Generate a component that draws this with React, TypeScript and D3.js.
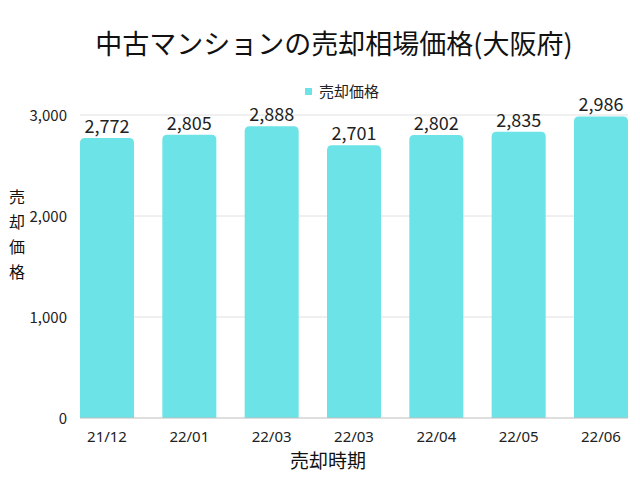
import React from "react";
import * as d3 from "d3";

const categories = ["21/12", "22/01", "22/03", "22/03", "22/04", "22/05", "22/06"];
const values = [2772, 2805, 2888, 2701, 2802, 2835, 2986];
const yTicks = [0, 1000, 2000, 3000];
const title = "中古マンションの売却相場価格(大阪府)";
const seriesName = "売却価格";
const xTitle = "売却時期";
const yTitleChars = ["売", "却", "価", "格"];

const W = 640, H = 480;
const left = 80, right = 628, top = 115, bottom = 418;
const color = "#6ce3e6";
const font = "'Noto Sans CJK JP', 'Noto Sans', sans-serif";

function topRounded(x: number, y: number, w: number, h: number, r: number) {
  const rr = Math.min(r, h);
  return `M${x},${y + h}V${y + rr}Q${x},${y} ${x + rr},${y}H${x + w - rr}Q${x + w},${y} ${x + w},${y + rr}V${y + h}Z`;
}

export default function App() {
  const x = d3.scaleBand<number>().domain(d3.range(categories.length)).range([left, right]).paddingInner(0.344).paddingOuter(0);
  const y = d3.scaleLinear().domain([0, 3000]).range([bottom, top]);
  const fmt = d3.format(",");
  return (
    <svg width={W} height={H} style={{ position: "absolute", left: 0, top: 0, background: "#fff" }} fontFamily={font}>
      <text x={334} y={54} textAnchor="middle" fontSize={27} fill="#111">{title}</text>
      <rect x={305} y={88} width={7} height={7} fill={color} />
      <text x={319} y={97} fontSize={15} fill="#222">{seriesName}</text>
      {yTicks.map((t) => (
        <g key={t}>
          {t > 0 && <line x1={left} x2={right} y1={y(t)} y2={y(t)} stroke="#e0e0e0" strokeWidth={1} />}
          <text x={67} y={y(t) + 6} textAnchor="end" fontSize={15} fill="#222">{fmt(t)}</text>
        </g>
      ))}
      {values.map((v, i) => (
        <g key={i}>
          <path d={topRounded(x(i)!, y(v), x.bandwidth(), bottom - y(v), 5)} fill={color} />
          <text x={x(i)! + x.bandwidth() / 2} y={y(v) - 5} textAnchor="middle" fontSize={18} fill="#222">{fmt(v)}</text>
          <text x={x(i)! + x.bandwidth() / 2} y={442} textAnchor="middle" fontSize={15} fill="#222" fontFamily="'Noto Sans', sans-serif">{categories[i]}</text>
        </g>
      ))}
      <line x1={left} x2={right} y1={bottom} y2={bottom} stroke="#bdbdbd" strokeWidth={1.2} />
      <text x={328} y={468} textAnchor="middle" fontSize={19} fill="#111">{xTitle}</text>
      {yTitleChars.map((c, i) => (
        <text key={i} x={17} y={203 + i * 25} textAnchor="middle" fontSize={16} fill="#111">{c}</text>
      ))}
    </svg>
  );
}
